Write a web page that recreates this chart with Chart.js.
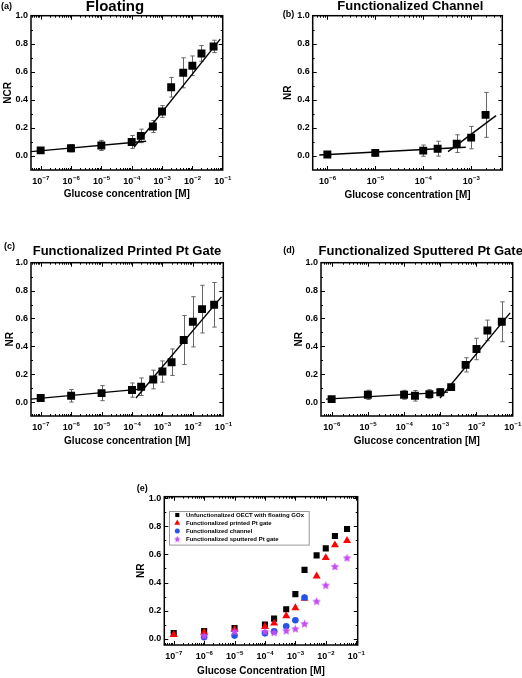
<!DOCTYPE html>
<html><head><meta charset="utf-8">
<script src="https://cdn.jsdelivr.net/npm/chart.js@4.4.1/dist/chart.umd.min.js"></script>
<style>
html,body{margin:0;padding:0;background:#fff;}
body{width:522px;height:678px;position:relative;overflow:hidden;}
canvas{position:absolute;}
</style></head><body>
<canvas id="ca" style="left:0;top:0" width="261" height="210"></canvas>
<canvas id="cb" style="left:261px;top:0" width="261" height="210"></canvas>
<canvas id="cc" style="left:0;top:215px" width="261" height="240"></canvas>
<canvas id="cd" style="left:261px;top:215px" width="261" height="240"></canvas>
<canvas id="ce" style="left:130px;top:455px" width="260" height="223"></canvas>
<script>
// ---------- data ----------
const concFull    = [1e-7,1e-6,1e-5,1e-4,2e-4,5e-4,1e-3,2e-3,5e-3,1e-2,2e-2,5e-2];
const concChannel = [1e-6,1e-5,1e-4,2e-4,5e-4,1e-3,2e-3];
const concSputter = [1e-6,1e-5,1e-4,2e-4,5e-4,1e-3,2e-3,5e-3,1e-2,2e-2,5e-2];

const floatingNCR = [0.040,0.055,0.075,0.100,0.143,0.210,0.317,0.490,0.593,0.643,0.731,0.781];
const floatingErr = [0.015,0.026,0.036,0.046,0.048,0.043,0.042,0.070,0.107,0.070,0.056,0.044];
const channelNR   = [0.010,0.022,0.038,0.052,0.088,0.131,0.293];
const channelErr  = [0.010,0.024,0.040,0.053,0.063,0.080,0.160];
const printedNR   = [0.029,0.045,0.064,0.086,0.110,0.162,0.219,0.286,0.445,0.576,0.667,0.698];
const printedErr  = [0.018,0.045,0.054,0.051,0.063,0.067,0.076,0.095,0.176,0.180,0.171,0.160];
const sputterNR   = [0.021,0.052,0.052,0.045,0.057,0.071,0.107,0.267,0.381,0.514,0.576];
const sputterErr  = [0.010,0.033,0.032,0.038,0.032,0.026,0.016,0.051,0.077,0.074,0.143];

// linear-fit segments (end points)
const fitFloatLow    = [[4.8e-8,0.031],[3.0e-4,0.105]];
const fitFloatHigh   = [[1.19e-4,0.062],[0.083,0.833]];
const fitChannelLow  = [[6.8e-7,0.007],[7.7e-4,0.062]];
const fitChannelHigh = [[3.3e-4,0.031],[3.3e-3,0.288]];
const fitPrintedLow  = [[4.8e-8,0.021],[2.3e-4,0.095]];
const fitPrintedHigh = [[1.35e-4,0.029],[0.087,0.755]];
const fitSputterLow  = [[7.0e-7,0.021],[1.63e-3,0.071]];
const fitSputterHigh = [[9.8e-4,0.029],[0.085,0.640]];

// tick labels
const decadesWide    = [1e-7,1e-6,1e-5,1e-4,1e-3,1e-2,1e-1];
const decadesChannel = [1e-6,1e-5,1e-4,1e-3];
const decadesSputter = [1e-6,1e-5,1e-4,1e-3,1e-2,1e-1];
const yTickValues    = [0,0.2,0.4,0.6,0.8,1.0];

const legendLabels = ['Unfunctionalized OECT with floating GOx','Functionalized printed Pt gate','Functionalized channel','Functionalized sputtered Pt gate'];
const panelTitles = ['Floating','Functionalized Channel','Functionalized Printed Pt Gate','Functionalized Sputtered Pt Gate'];
const xAxisTitle = 'Glucose concentration [M]';
const xAxisTitleE = 'Glucose Concentration [M]';

// ---------- styling helpers ----------
const FONT = "'Liberation Sans', Arial, sans-serif";
const pts = (xs, ys) => xs.map((x, i) => ({x, y: ys[i]}));
const seg = s => s.map(([x, y]) => ({x, y}));

function starImage(size, color) {
  const c = document.createElement('canvas');
  c.width = size; c.height = size;
  const g = c.getContext('2d');
  const cx = size/2, cy = size/2 + size*0.05, R = size/2, r = R*0.45;
  g.beginPath();
  for (let k = 0; k < 10; k++) {
    const rad = k % 2 ? r : R;
    const a = -Math.PI/2 + k*Math.PI/5;
    g.lineTo(cx + rad*Math.cos(a), cy + rad*Math.sin(a));
  }
  g.closePath(); g.fillStyle = color; g.fill();
  return c;
}
const PURPLE = '#C24CF2', BLUE = '#2453E6', RED = '#FF0000';
const starBig = starImage(9, PURPLE), starSmall = starImage(7, PURPLE);

// ---------- plugins ----------
const errorBars = {
  id: 'errorBars',
  beforeDatasetsDraw(chart) {
    const ctx = chart.ctx, xs = chart.scales.x, ys = chart.scales.y, a = chart.chartArea;
    ctx.save();
    ctx.beginPath(); ctx.rect(a.left, a.top, a.right - a.left, a.bottom - a.top); ctx.clip();
    ctx.strokeStyle = '#666'; ctx.lineWidth = 1;
    chart.data.datasets.forEach(ds => {
      if (!ds.errors) return;
      ds.data.forEach((p, i) => {
        const e = ds.errors[i];
        const px = Math.round(xs.getPixelForValue(p.x)) + 0.5;
        const y1 = ys.getPixelForValue(p.y - e), y2 = ys.getPixelForValue(p.y + e);
        ctx.beginPath();
        ctx.moveTo(px, y1); ctx.lineTo(px, y2);
        ctx.moveTo(px - 2.2, y1); ctx.lineTo(px + 2.2, y1);
        ctx.moveTo(px - 2.2, y2); ctx.lineTo(px + 2.2, y2);
        ctx.stroke();
      });
    });
    ctx.restore();
  }
};

const axisFrame = {
  id: 'axisFrame',
  afterDraw(chart, args, o) {
    const ctx = chart.ctx, xs = chart.scales.x, ys = chart.scales.y, a = chart.chartArea;
    ctx.save();
    ctx.strokeStyle = '#000'; ctx.lineWidth = 1;
    const tickX = (v, len) => {
      const px = Math.round(xs.getPixelForValue(v)) + 0.5;
      if (px <= a.left + 1 || px >= a.right - 1) return;
      ctx.beginPath();
      ctx.moveTo(px, a.bottom); ctx.lineTo(px, a.bottom - len);
      ctx.moveTo(px, a.top); ctx.lineTo(px, a.top + len);
      ctx.stroke();
    };
    const tickY = (v, len) => {
      const py = Math.round(ys.getPixelForValue(v)) + 0.5;
      if (py <= a.top + 1 || py >= a.bottom - 1) return;
      ctx.beginPath();
      ctx.moveTo(a.left, py); ctx.lineTo(a.left + len, py);
      ctx.moveTo(a.right, py); ctx.lineTo(a.right - len, py);
      ctx.stroke();
    };
    const e0 = Math.floor(Math.log10(xs.min)), e1 = Math.ceil(Math.log10(xs.max));
    for (let e = e0; e <= e1; e++) {
      for (let k = 1; k <= 9; k++) {
        const v = k * Math.pow(10, e);
        if (v < xs.min || v > xs.max) continue;
        tickX(v, k === 1 ? 4 : 2);
      }
    }
    for (let i = -1; i <= 10; i++) {
      const v = i / 10;
      if (v < ys.min || v > ys.max) continue;
      tickY(v, i % 2 === 0 ? 4 : 2);
    }
    ctx.lineWidth = 1.5;
    ctx.strokeRect(a.left, a.top, a.right - a.left, a.bottom - a.top);

    // decade labels 10^n with a raised exponent, placed by the x scale
    ctx.fillStyle = '#000'; ctx.textBaseline = 'alphabetic'; ctx.textAlign = 'left';
    const baseFont = `bold 9px ${FONT}`, expFont = `bold 6px ${FONT}`;
    (o.decades || []).forEach(v => {
      const px = xs.getPixelForValue(v);
      const exp = String(Math.round(Math.log10(v))).replace('-', '\u2212');
      ctx.font = baseFont; const w1 = ctx.measureText('10').width;
      ctx.font = expFont; const w2 = ctx.measureText(exp).width;
      const x0 = px - (w1 + w2) / 2;
      ctx.font = baseFont; ctx.fillText('10', x0, a.bottom + 13.5);
      ctx.font = expFont; ctx.fillText(exp, x0 + w1 + 0.3, a.bottom + 9.5);
    });
    ctx.restore();
  }
};

const panelText = {
  id: 'panelText',
  afterDraw(chart, args, o) {
    const ctx = chart.ctx;
    ctx.save(); ctx.fillStyle = '#000'; ctx.textBaseline = 'middle';
    if (o.title) {
      ctx.font = `bold ${o.titleSize || 13}px ${FONT}`; ctx.textAlign = 'center';
      ctx.fillText(o.title, o.tx, o.ty);
    }
    ctx.font = `bold 9px ${FONT}`; ctx.textAlign = 'left';
    ctx.fillText(o.letter, o.lx, o.ly);
    ctx.restore();
  }
};

const boxLegend = {
  id: 'boxLegend',
  afterDraw(chart, args, o) {
    const ctx = chart.ctx, a = chart.chartArea;
    const x0 = a.left + o.dx, y0 = a.top + o.dy;
    ctx.save();
    ctx.fillStyle = '#fff';
    ctx.fillRect(x0, y0, o.w, o.h);
    ctx.strokeStyle = '#999'; ctx.lineWidth = 1;
    ctx.strokeRect(Math.round(x0) + 0.5, Math.round(y0) + 0.5, o.w, o.h);
    ctx.font = `bold 6px ${FONT}`; ctx.textBaseline = 'middle'; ctx.textAlign = 'left';
    chart.data.datasets.forEach((ds, i) => {
      if (!ds.legendStyle) return;
      const cy = y0 + o.first + ds.legendRow * o.row;
      ctx.fillStyle = ds.backgroundColor;
      Chart.helpers.drawPoint(ctx, {pointStyle: ds.legendStyle, radius: ds.legendRadius, rotation: 0, borderWidth: 0}, x0 + o.mx, cy);
      ctx.fillStyle = '#000';
      ctx.fillText(ds.label, x0 + o.tx, cy + 0.5);
    });
    ctx.restore();
  }
};

// ---------- panel builder ----------
function makePanel(id, p) {
  const cv = document.getElementById(id);
  const W = cv.width, H = cv.height;
  const scaleBottom = p.xTitleY + 6;
  const padB = H - scaleBottom;
  const xAxisH = scaleBottom - p.area.b;
  const padL = p.yTitleX - 6;
  const yAxisW = p.area.l - padL;
  const tickFont = {family: FONT, size: 9, weight: 'bold'};
  const titleFont = {family: FONT, size: 10, weight: 'bold'};
  new Chart(cv, {
    type: 'scatter',
    data: {datasets: p.datasets},
    options: {
      responsive: false, animation: false, devicePixelRatio: 1,
      layout: {padding: {left: padL, right: W - p.area.r, top: p.area.t, bottom: padB}},
      plugins: {
        legend: {display: false}, tooltip: {enabled: false}, title: {display: false},
        panelText: p.text, boxLegend: p.legend || false, axisFrame: {decades: p.xTicks}
      },
      scales: {
        x: {
          type: 'logarithmic', min: p.xMin, max: p.xMax,
          grid: {display: false, drawTicks: false}, border: {display: false},
          ticks: {display: false},
          afterBuildTicks: s => { s.ticks = p.xTicks.map(v => ({value: v})); },
          afterFit: s => { s.height = xAxisH; },
          title: {display: true, text: p.xTitle, color: '#000', font: titleFont, padding: 0}
        },
        y: {
          type: 'linear', min: p.yMin, max: p.yMax,
          grid: {display: false, drawTicks: false}, border: {display: false},
          ticks: {color: '#000', font: tickFont, padding: 3, callback: v => Number(v).toFixed(1)},
          afterBuildTicks: s => { s.ticks = yTickValues.map(v => ({value: v})); },
          afterFit: s => { s.width = yAxisW; },
          title: {display: true, text: p.yTitle, color: '#000', font: titleFont, padding: 0}
        }
      }
    },
    plugins: [errorBars, axisFrame, panelText, boxLegend]
  });
}

const markerSet = (data, errors) => ({
  data, errors, showLine: false, pointStyle: 'rect', pointRadius: 5.6, pointHoverRadius: 5.6,
  backgroundColor: '#000', borderColor: '#000', borderWidth: 0
});
const fitSet = d => ({
  data: seg(d), showLine: true, pointRadius: 0, borderColor: '#000', borderWidth: 1.4, fill: false
});

makePanel('ca', {
  area: {l: 31, r: 222.7, t: 15.7, b: 170}, xTitleY: 194, yTitleX: 8.3,
  xMin: 4.8e-8, xMax: 0.1, yMin: -0.1, yMax: 1.0, xTicks: decadesWide,
  xTitle: xAxisTitle, yTitle: 'NCR',
  text: {title: panelTitles[0], titleSize: 15, tx: 115, ty: 6.8, letter: '(a)', lx: 1, ly: 7},
  datasets: [markerSet(pts(concFull, floatingNCR), floatingErr), fitSet(fitFloatLow), fitSet(fitFloatHigh)]
});
makePanel('cb', {
  area: {l: 51.7, r: 241.3, t: 15.7, b: 170}, xTitleY: 195, yTitleX: 27.3,
  xMin: Math.pow(10, -6.306), xMax: Math.pow(10, -2.35), yMin: -0.1, yMax: 1.0, xTicks: decadesChannel,
  xTitle: xAxisTitle, yTitle: 'NR',
  text: {title: panelTitles[1], tx: 149.3, ty: 6.7, letter: '(b)', lx: 21.7, ly: 15},
  datasets: [markerSet(pts(concChannel, channelNR), channelErr), fitSet(fitChannelLow), fitSet(fitChannelHigh)]
});
makePanel('cc', {
  area: {l: 31, r: 223.3, t: 47.7, b: 201}, xTitleY: 226, yTitleX: 10,
  xMin: 4.8e-8, xMax: 0.1, yMin: -0.1, yMax: 1.0, xTicks: decadesWide,
  xTitle: xAxisTitle, yTitle: 'NR',
  text: {title: panelTitles[2], tx: 127, ty: 36.7, letter: '(c)', lx: 4, ly: 31.3},
  datasets: [markerSet(pts(concFull, printedNR), printedErr), fitSet(fitPrintedLow), fitSet(fitPrintedHigh)]
});
makePanel('cd', {
  area: {l: 60, r: 251.7, t: 47.7, b: 201}, xTitleY: 226, yTitleX: 38.3,
  xMin: Math.pow(10, -6.294), xMax: 0.1, yMin: -0.1, yMax: 1.0, xTicks: decadesSputter,
  xTitle: xAxisTitle, yTitle: 'NR',
  text: {title: panelTitles[3], tx: 159.7, ty: 36.7, letter: '(d)', lx: 22.3, ly: 36},
  datasets: [markerSet(pts(concSputter, sputterNR), sputterErr), fitSet(fitSputterLow), fitSet(fitSputterHigh)]
});
makePanel('ce', {
  area: {l: 34.3, r: 227.7, t: 41.7, b: 190}, xTitleY: 216.7, yTitleX: 11.7,
  xMin: Math.pow(10, -7.31), xMax: Math.pow(10, -0.95), yMin: -0.045, yMax: 1.011, xTicks: decadesWide,
  xTitle: xAxisTitleE, yTitle: 'NR',
  text: {title: '', letter: '(e)', lx: 6.7, ly: 33.3},
  legend: {dx: 5, dy: 14, w: 139.7, h: 33.6, first: 4.3, row: 8, mx: 8, tx: 16.7},
  datasets: [
    {label: legendLabels[0], data: pts(concFull, floatingNCR), order: 4, pointStyle: 'rect', pointRadius: 4.3,
     backgroundColor: '#000', borderWidth: 0, legendStyle: 'rect', legendRadius: 2.9, legendRow: 0},
    {label: legendLabels[1], data: pts(concFull, printedNR), order: 3, pointStyle: 'triangle', pointRadius: 4.6,
     backgroundColor: RED, borderWidth: 0, legendStyle: 'triangle', legendRadius: 3.4, legendRow: 1},
    {label: legendLabels[2], data: pts(concChannel, channelNR), order: 2, pointStyle: 'circle', pointRadius: 3.3,
     backgroundColor: BLUE, borderWidth: 0, legendStyle: 'circle', legendRadius: 2.5, legendRow: 2},
    {label: legendLabels[3], data: pts(concSputter, sputterNR), order: 1, pointStyle: starBig, pointRadius: 4.5,
     backgroundColor: PURPLE, borderWidth: 0, legendStyle: starSmall, legendRadius: 3.5, legendRow: 3}
  ]
});
</script>
</body></html>
